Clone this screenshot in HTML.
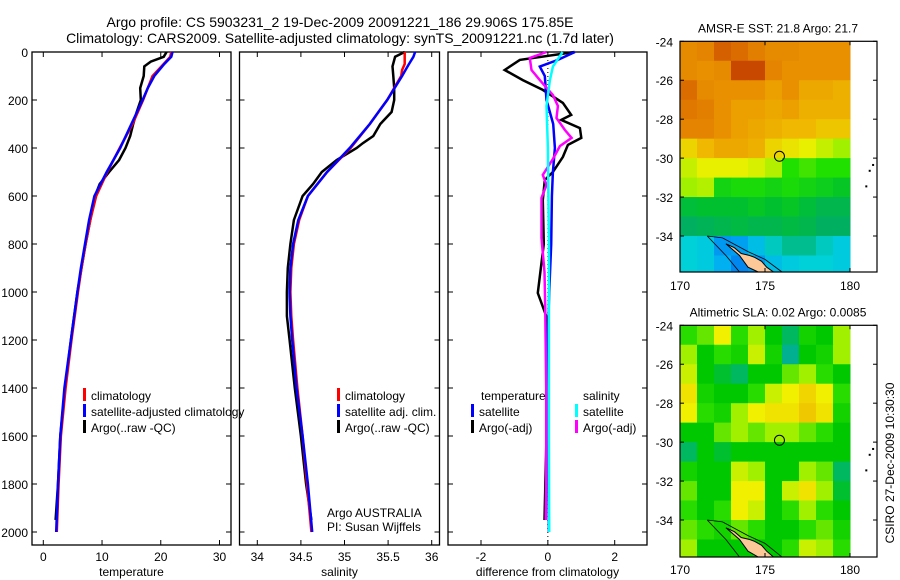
<!DOCTYPE html>
<html><head><meta charset="utf-8"><style>
html,body{margin:0;padding:0;background:#fff;}
svg{display:block;font-family:"Liberation Sans",sans-serif;}
</style></head><body>
<svg id="c" width="900" height="580" viewBox="0 0 900 580">
<text x="340" y="27" text-anchor="middle" font-size="14">Argo profile: CS 5903231_2 19-Dec-2009 20091221_186 29.906S 175.85E</text>
<text x="340" y="43" text-anchor="middle" font-size="14">Climatology: CARS2009. Satellite-adjusted climatology: synTS_20091221.nc (1.7d later)</text>
<g id="g"></g>
</svg>
<script>
// ---- data ----
const climDepthT=[0,20,50,100,150,200,300,400,500,600,700,800,900,1000,1200,1400,1600,1800,2000];
const climT=[21.8,21.6,20.5,18.6,17.8,17.0,15.2,13.0,10.9,9.0,8.0,7.2,6.5,5.9,4.8,3.8,3.0,2.6,2.3];
const satT=[22.0,21.8,20.6,18.9,17.8,16.9,15.0,13.1,10.8,8.7,7.8,7.1,6.4,5.8,4.7,3.6,2.9,2.5,2.2];
const argoDepthT=[0,20,40,60,100,150,200,250,300,350,400,450,500,550,600,800,1000,1200,1400,1600,1800,1950];
const argoT=[21.0,20.5,18.3,17.2,17.1,16.5,16.6,15.9,15.3,14.8,14.0,12.9,11.2,9.6,8.8,7.2,5.8,4.7,3.7,2.9,2.5,2.1];
const climDepthS=[0,20,50,75,100,200,300,400,500,600,700,800,900,1000,1100,1200,1400,1600,1800,2000];
const climS=[35.69,35.69,35.69,35.66,35.65,35.49,35.29,35.07,34.80,34.58,34.48,34.42,34.39,34.38,34.39,34.41,34.46,34.52,34.57,34.62];
const satS=[35.81,35.79,35.74,35.70,35.66,35.49,35.29,35.06,34.80,34.58,34.47,34.41,34.38,34.37,34.38,34.40,34.45,34.52,34.58,34.63];
const argoDepthS=[0,20,60,100,150,200,250,300,350,380,400,450,500,550,600,700,800,900,1000,1100,1200,1400,1600,1800,1950];
const argoS=[35.69,35.58,35.55,35.56,35.57,35.57,35.54,35.41,35.33,35.21,35.14,34.91,34.74,34.64,34.52,34.42,34.38,34.35,34.34,34.34,34.37,34.43,34.50,34.56,34.62];
const diffDepthSatT=[0,33,61,100,200,300,400,500,600,800,1000,1200,1600,2000];
const diffSatT=[0.81,0.3,-0.24,-0.09,-0.04,0.16,0.21,0.15,0.12,0.1,0.04,0.0,0.01,0.03];
const diffDepthArgoT=[0,33,75,117,158,212,262,283,317,358,387,437,500,533,617,800,1004,1100,1300,1600,1950];
const diffArgoT=[0.8,-0.84,-1.29,-0.75,-0.15,0.45,0.7,0.4,0.96,1.0,0.6,0.45,0.15,-0.09,-0.15,-0.12,-0.3,-0.05,-0.02,-0.04,-0.1];
const diffDepthSatS=[0,61,117,225,400,800,1200,1600,2000];
const diffSatS=[0.44,0.15,0.06,-0.04,0.0,0.03,0.03,0.03,0.04];
const diffDepthArgoS=[0,25,75,117,179,225,275,325,358,392,446,512,554,608,775,917,1058,1400,1800,1950];
const diffArgoS=[-0.04,-0.54,-0.49,-0.24,0.15,0.3,0.26,0.51,0.71,0.36,0.15,-0.15,-0.04,-0.19,-0.19,-0.1,-0.08,-0.05,-0.05,-0.06];
const depthTicks=[0,200,400,600,800,1000,1200,1400,1600,1800,2000];
const tTicks=[0,10,20,30];
const sTicks=[34,34.5,35,35.5,36];
const dTicks=[-2,0,2];
const lonTicks=[170,175,180];
const latTicks=[-24,-26,-28,-30,-32,-34];
const sstGrid=[
[22.6,22.7,23.1,23.0,22.8,22.6,22.6,22.5,22.5,22.5],
[22.6,22.5,22.6,23.3,23.3,22.7,22.5,22.5,22.5,22.5],
[23.0,22.6,22.5,22.5,22.5,22.3,22.5,22.2,22.2,22.1],
[22.9,22.8,22.5,22.3,22.3,22.2,22.3,22.1,22.1,22.1],
[22.7,22.7,22.5,22.3,22.2,22.1,22.0,22.0,21.9,21.9],
[21.8,22.0,22.2,22.2,22.1,21.8,21.7,21.6,21.4,21.2],
[21.4,21.6,21.6,21.6,21.5,21.3,20.8,20.9,20.8,20.8],
[21.2,21.3,20.6,20.7,20.7,20.6,20.7,20.6,20.5,20.4],
[20.2,20.3,20.3,20.3,20.4,20.3,20.4,20.2,20.0,20.0],
[19.8,19.9,20.0,20.1,20.0,20.0,20.1,20.0,19.8,19.8],
[19.3,19.2,18.5,18.6,19.0,19.4,19.6,19.6,19.4,19.2],
[19.3,19.2,18.8,18.3,18.5,19.0,19.2,19.3,19.3,19.2]];
const slaGrid=[
[0.02,0.03,0.06,0.02,0.04,0.0,-0.02,0.01,0.0,0.04],
[0.04,0.0,0.02,0.01,0.05,0.01,-0.03,0.0,0.01,0.04],
[0.05,0.0,-0.01,-0.02,0.0,0.0,0.03,0.04,0.02,0.0],
[0.07,0.01,0.0,0.0,0.02,0.05,0.06,0.08,0.06,0.02],
[0.06,0.02,0.01,0.04,0.06,0.07,0.07,0.09,0.07,0.01],
[0.0,0.0,0.03,0.04,0.03,0.04,0.04,0.03,0.02,0.0],
[-0.02,0.0,-0.01,0.0,0.0,0.0,0.0,0.0,0.0,0.0],
[0.01,0.0,0.0,0.05,0.04,0.0,0.0,0.04,0.03,-0.02],
[0.03,0.0,0.0,0.06,0.06,0.0,0.05,0.07,0.04,-0.01],
[0.02,0.0,0.02,0.06,0.05,0.0,0.02,0.04,0.02,0.0],
[0.03,0.02,0.01,0.03,0.02,0.0,0.0,0.02,0.03,0.01],
[0.04,0.0,0.0,0.0,0.0,0.0,0.02,0.05,0.04,0.02]];
const landLon=[172.7,173.2,173.6,174.1,174.4,174.8,175.1,175.5,175.3,174.6,174.0,173.5];
const landLat=[-34.4,-34.6,-34.9,-35.0,-35.1,-35.3,-35.6,-36,-36,-35.9,-35.6,-35.0];

// ---- drawing ----
const NS='http://www.w3.org/2000/svg';
const G=document.getElementById('g');
function mk(tag,attrs,parent){const e=document.createElementNS(NS,tag);for(const k in attrs)e.setAttribute(k,attrs[k]);(parent||G).appendChild(e);return e;}
function lin(d0,d1,r0,r1){return v=>r0+(v-d0)*(r1-r0)/(d1-d0);}
const yD=lin(0,2000,52,532);
const PT=52,PB=545;
const panels=[
 {x0:32,x1:231,sx:lin(0,30,43.3,219.5),ticks:tTicks,lab:'temperature',name:'temperature'},
 {x0:239.5,x1:439.5,sx:lin(34,36,257.3,431.7),ticks:sTicks,lab:'salinity',name:'salinity'},
 {x0:448,x1:647,sx:lin(-2,2,481,614.7),ticks:dTicks,lab:'difference from climatology',name:'difference'}];
function poly(xs,ds,sx,color,w,name){
  const pts=xs.map((v,i)=>sx(v).toFixed(1)+','+yD(ds[i]).toFixed(1)).join(' ');
  const p=mk('polyline',{points:pts,fill:'none',stroke:color,'stroke-width':w,'stroke-linejoin':'miter'});
  
  
}
panels.forEach((p,pi)=>{
  const r=mk('rect',{x:p.x0,y:PT,width:p.x1-p.x0,height:PB-PT,fill:'none',stroke:'#000','stroke-width':1.3});
  
  
  depthTicks.forEach(d=>{
    const y=yD(d);
    mk('line',{x1:p.x0,x2:p.x0+5,y1:y,y2:y,stroke:'#000'});
    mk('line',{x1:p.x1-5,x2:p.x1,y1:y,y2:y,stroke:'#000'});
    if(pi==0){const t=mk('text',{x:28,y:y+5,'text-anchor':'end','font-size':12});t.textContent=d;
      
      }
  });
  p.ticks.forEach(v=>{
    const x=p.sx(v);
    mk('line',{x1:x,x2:x,y1:PB,y2:PB-5,stroke:'#000'});
    mk('line',{x1:x,x2:x,y1:PT,y2:PT+5,stroke:'#000'});
    const t=mk('text',{x:x,y:PB+16,'text-anchor':'middle','font-size':12});t.textContent=v;
    
    
  });
  const t=mk('text',{x:(p.x0+p.x1)/2,y:576,'text-anchor':'middle','font-size':12});t.textContent=p.lab;
  
  
});
const sxT=panels[0].sx,sxS=panels[1].sx,sxD=panels[2].sx;
poly(argoT,argoDepthT,sxT,'#000',2.5,'argo-temperature-line');
poly(climT,climDepthT,sxT,'#f00',2.5,'climatology-temperature-line');
poly(satT,climDepthT,sxT,'#00f',2.5,'satellite-temperature-line');
poly(argoS,argoDepthS,sxS,'#000',2.5,'argo-salinity-line');
poly(climS,climDepthS,sxS,'#f00',2.5,'climatology-salinity-line');
poly(satS,climDepthS,sxS,'#00f',2.5,'satellite-salinity-line');
const zl=mk('line',{x1:sxD(0),x2:sxD(0),y1:PT,y2:PB,stroke:'#000','stroke-dasharray':'1,3'});


poly(diffArgoT,diffDepthArgoT,sxD,'#000',2.5,'argo-temperature-difference-line');
poly(diffSatT,diffDepthSatT,sxD,'#00f',2.5,'satellite-temperature-difference-line');
poly(diffArgoS,diffDepthArgoS,sxD,'#f0f',2.5,'argo-salinity-difference-line');
poly(diffSatS,diffDepthSatS,sxD,'#0ff',2.5,'satellite-salinity-difference-line');

function legend(x,y,color,label,name){
  const m=mk('rect',{x:x,y:y-10,width:3,height:13,fill:color});
  
  
  const t=mk('text',{x:x+8,y:y+2,'font-size':12});t.textContent=label;
  
  
}
legend(83,398,'#f00','climatology','legend-climatology');
legend(83,414,'#00f','satellite-adjusted climatology','legend-satellite-adjusted');
legend(83,430,'#000','Argo(..raw -QC)','legend-argo');
legend(337,398,'#f00','climatology','legend-s-climatology');
legend(337,414,'#00f','satellite adj. clim.','legend-s-satellite');
legend(337,430,'#000','Argo(..raw -QC)','legend-s-argo');
let tt=mk('text',{x:481,y:400,'font-size':12});tt.textContent='temperature';


tt=mk('text',{x:583,y:400,'font-size':12});tt.textContent='salinity';


legend(471,414,'#00f','satellite','legend-d-temp-satellite');
legend(471,430,'#000','Argo(-adj)','legend-d-temp-argo');
legend(575,414,'#0ff','satellite','legend-d-sal-satellite');
legend(575,430,'#f0f','Argo(-adj)','legend-d-sal-argo');
tt=mk('text',{x:327,y:517,'font-size':12});tt.textContent='Argo AUSTRALIA';


tt=mk('text',{x:327,y:531,'font-size':12});tt.textContent='PI: Susan Wijffels';



// colour maps
function cmap(stops,v){
  if(v<=stops[0][0])return stops[0][1];
  for(let i=1;i<stops.length;i++){if(v<=stops[i][0]){const a=stops[i-1],b=stops[i],f=(v-a[0])/(b[0]-a[0]);
    const ca=a[1],cb=b[1];return ca.map((c,k)=>Math.round(c+(cb[k]-c)*f));}}
  return stops[stops.length-1][1];
}
const sstStops=[[17,[0,0,192]],[18,[0,112,240]],[18.8,[0,176,240]],[19.3,[0,208,216]],[19.8,[0,176,96]],[20.3,[0,192,48]],[20.8,[32,224,0]],[21.2,[160,240,0]],[21.6,[232,240,0]],[22.0,[240,184,0]],[22.5,[232,144,0]],[22.9,[224,120,0]],[23.3,[200,72,0]]];
const slaStops=[[-0.03,[0,176,144]],[0,[0,200,0]],[0.02,[40,220,0]],[0.04,[160,240,0]],[0.06,[240,240,0]],[0.09,[240,200,0]]];

function drawMap(yTop,yM34,yBot,grid,stops,title,name,labY){
  const sx=lin(170,180,680,850);
  const sy=lin(-24,-34,yTop,yM34);
  const g=mk('g',{});
  
  
  grid.forEach((row,ri)=>row.forEach((v,ci)=>{
    const c=cmap(stops,v);
    const x0=sx(170+ci),x1=sx(171+ci),y0=sy(-24-ri),y1=Math.min(sy(-25-ri),yBot);
    const r=mk('rect',{x:x0,y:y0,width:x1-x0+0.5,height:y1-y0+0.5,fill:'rgb('+c.join(',')+')'},g);
    
    
  }));
  const lp=landLon.map((v,i)=>sx(v).toFixed(1)+','+Math.min(sy(landLat[i]),yBot).toFixed(1)).join(' ');
  const land=mk('polygon',{points:lp,fill:'#fcc898',stroke:'#000','stroke-width':1},g);
  
  
  const ct=mk('polyline',{points:[[171.6,-34],[172.5,-34.1],[174,-34.8],[175,-35.2],[176,-36]].map(p=>sx(p[0]).toFixed(1)+','+Math.min(sy(p[1]),yBot).toFixed(1)).join(' '),fill:'none',stroke:'#000','stroke-width':0.8},g);
  
  
  const ct2=mk('polyline',{points:[[171.6,-34],[172.7,-35],[173.5,-36]].map(p=>sx(p[0]).toFixed(1)+','+Math.min(sy(p[1]),yBot).toFixed(1)).join(' '),fill:'none',stroke:'#000','stroke-width':0.8},g);
  
  
  const fr=mk('rect',{x:680,y:yTop,width:197,height:yBot-yTop,fill:'none',stroke:'#000','stroke-width':1.2});
  
  
  const ci=mk('circle',{cx:sx(175.85),cy:sy(-29.906),r:5,fill:'none',stroke:'#000','stroke-width':1});
  
  
  [[181.3,-30.3],[181.1,-30.6],[180.9,-31.4]].forEach(p=>mk('rect',{x:sx(p[0]),y:sy(p[1]),width:2,height:2,fill:'#000'}));
  latTicks.forEach(v=>{const y=sy(v);
    mk('line',{x1:680,x2:684,y1:y,y2:y,stroke:'#000'});mk('line',{x1:873,x2:877,y1:y,y2:y,stroke:'#000'});
    const t=mk('text',{x:673,y:y+5,'text-anchor':'end','font-size':12});t.textContent=v;
    
    });
  lonTicks.forEach(v=>{const x=sx(v);
    mk('line',{x1:x,x2:x,y1:yTop,y2:yTop+4,stroke:'#000'});mk('line',{x1:x,x2:x,y1:yBot-4,y2:yBot,stroke:'#000'});
    const t=mk('text',{x:x,y:labY,'text-anchor':'middle','font-size':12});t.textContent=v;
    
    });
  const t=mk('text',{x:778,y:yTop-9,'text-anchor':'middle','font-size':12});t.textContent=title;
  
  
}
drawMap(41.3,236,272,sstGrid,sstStops,'AMSR-E SST: 21.8 Argo: 21.7','sst-map',290);
drawMap(325.3,520,557,slaGrid,slaStops,'Altimetric SLA: 0.02 Argo: 0.0085','sla-map',574);
tt=mk('text',{x:0,y:0,'font-size':12,'text-anchor':'middle',transform:'translate(894,463) rotate(-90)'});tt.textContent='CSIRO 27-Dec-2009 10:30:30';


</script>
</body></html>
